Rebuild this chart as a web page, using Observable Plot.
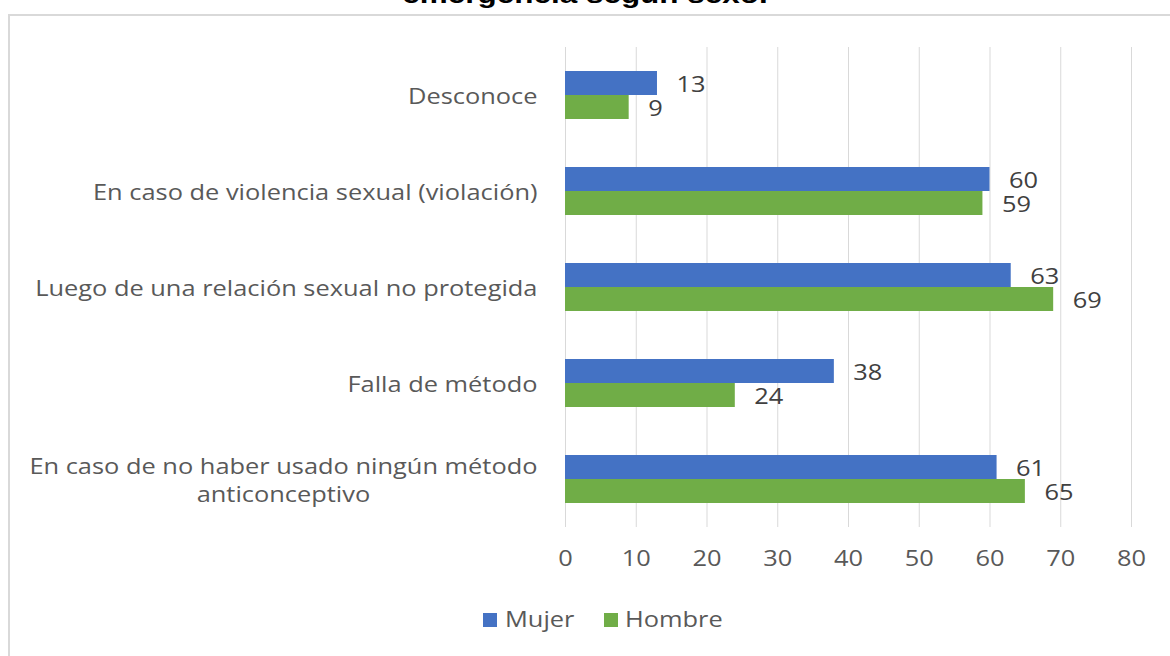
<!DOCTYPE html>
<html>
<head>
<meta charset="utf-8">
<script src="https://cdn.jsdelivr.net/npm/d3@7"></script>
<script src="https://cdn.jsdelivr.net/npm/@observablehq/plot@0.6"></script>
<style>
  html, body { margin: 0; padding: 0; background: #fff; }
  #wrap { position: relative; width: 1170px; height: 656px; overflow: hidden; background: #fff; }
  #title { position: absolute; left: 0; width: 1170px; top: -19px; text-align: center;
           font-family: "Liberation Sans", Arial, sans-serif; font-weight: bold; font-size: 26px;
           color: #000; line-height: 26px; }
  #title span { display: inline-block; transform: scaleX(1.21); transform-origin: 50% 50%; }
  #frame { position: absolute; left: 8px; top: 14px; width: 1200px; height: 700px;
           border: 2px solid #d9d9d9; box-sizing: border-box; }
  #chart { position: absolute; left: 0; top: 0; }
  .lg { position: absolute; font-family: "Open Sans", sans-serif; font-size: 21px; color: #595959;
        line-height: 24px; transform: scaleX(1.21); transform-origin: 0 50%; white-space: nowrap; }
  .sw { position: absolute; width: 14px; height: 14px; }
</style>
</head>
<body>
<div id="wrap">
  <div id="title"><span>emergencia según sexo.</span></div>
  <div id="frame"></div>
  <div id="chart"></div>
</div>
<script>
const categories = [
  "Desconoce",
  "En caso de violencia sexual (violación)",
  "Luego de una relación sexual no protegida",
  "Falla de método",
  "En caso de no haber usado ningún método\nanticonceptivo"
];
const mujer = [13, 60, 63, 38, 61];
const hombre = [9, 59, 69, 24, 65];
const series = ["Mujer", "Hombre"];
const colors = ["#4472C4", "#70AD47"];
const xTicks = [0, 10, 20, 30, 40, 50, 60, 70, 80];

const dataM = categories.map((c, i) => ({cat: c, sex: series[0], v: mujer[i]}));
const dataH = categories.map((c, i) => ({cat: c, sex: series[1], v: hombre[i]}));

const font = "'Open Sans', sans-serif";
const half = 24;
const stretch = 1.21;

const chart = Plot.plot({
  width: 1170,
  height: 656,
  marginLeft: 565,
  marginRight: 39,
  marginTop: 47,
  marginBottom: 129,
  style: {fontFamily: font, fontSize: "21px", background: "transparent"},
  x: {domain: [0, 80]},
  y: {domain: categories, paddingInner: 0.5, paddingOuter: 0.25},
  color: {domain: series, range: colors},
  marks: [
    Plot.gridX(xTicks, {stroke: "#d9d9d9", strokeOpacity: 1, strokeWidth: 1}),
    Plot.barX(dataM, {x: "v", y: "cat", fill: "sex", insetBottom: half}),
    Plot.barX(dataH, {x: "v", y: "cat", fill: "sex", insetTop: half}),
    Plot.text(dataM, {x: "v", y: "cat", text: d => String(d.v), dx: 19, dy: -half / 2 + 2, textAnchor: "start", fill: "#404040", fontSize: 21}),
    Plot.text(dataH, {x: "v", y: "cat", text: d => String(d.v), dx: 19, dy: half / 2 + 2, textAnchor: "start", fill: "#404040", fontSize: 21}),
    Plot.axisX({ticks: xTicks, tickSize: 0, tickPadding: 24, fill: "#595959", fontSize: 21, label: null}),
    Plot.axisY({tickSize: 0, tickPadding: 28, fill: "#595959", fontSize: 21, lineHeight: 1.33, label: null})
  ]
});

// widen glyphs horizontally around each text's own anchor
chart.querySelectorAll("text").forEach(t => {
  const tr = t.getAttribute("transform") || "";
  if (/translate/.test(tr)) {
    t.setAttribute("transform", tr + ` scale(${stretch},1)`);
  } else {
    const x = +(t.getAttribute("x") || 0), y = +(t.getAttribute("y") || 0);
    t.removeAttribute("x"); t.removeAttribute("y");
    t.setAttribute("transform", `translate(${x},${y}) ${tr} scale(${stretch},1)`);
  }
});
document.getElementById("chart").appendChild(chart);

// center the lines of wrapped category labels under each other (right-aligned block)
chart.querySelectorAll("text").forEach(t => {
  const spans = t.querySelectorAll("tspan");
  if (spans.length > 1) {
    const w = Array.from(spans, s => s.getComputedTextLength());
    const maxW = Math.max(...w);
    spans.forEach((s, i) => {
      const shift = -(maxW - w[i]) / 2;
      if (shift) s.setAttribute("dx", shift);
    });
  }
});

// legend
const wrap = document.getElementById("wrap");
const legendPos = [{sw: 483, tx: 505}, {sw: 604, tx: 625}];
series.forEach((s, i) => {
  const sw = document.createElement("div");
  sw.className = "sw";
  sw.style.left = legendPos[i].sw + "px";
  sw.style.top = "613px";
  sw.style.background = colors[i];
  const t = document.createElement("div");
  t.className = "lg";
  t.style.left = legendPos[i].tx + "px";
  t.style.top = "607px";
  t.textContent = s;
  wrap.appendChild(sw);
  wrap.appendChild(t);
});
</script>
</body>
</html>
